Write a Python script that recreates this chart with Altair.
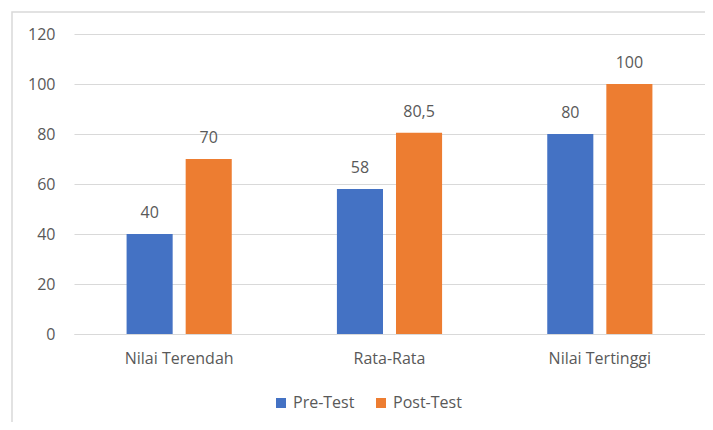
import altair as alt
import pandas as pd

categories = ["Nilai Terendah", "Rata-Rata", "Nilai Tertinggi"]
series = ["Pre-Test", "Post-Test"]
pre_values = [40, 58, 80]
post_values = [70, 80.5, 100]
pre_labels = ["40", "58", "80"]
post_labels = ["70", "80,5", "100"]
colors = ["#4472C4", "#ED7D31"]

rows = []
for c, v, l in zip(categories, pre_values, pre_labels):
    rows.append({"cat": c, "series": "Pre-Test", "value": v, "label": l})
for c, v, l in zip(categories, post_values, post_labels):
    rows.append({"cat": c, "series": "Post-Test", "value": v, "label": l})
df = pd.DataFrame(rows)

FONT = "Open Sans"
TXT = "#595959"
FS = 16

x = alt.X("cat:N", sort=categories, title=None,
          scale=alt.Scale(paddingInner=0.5, paddingOuter=0.25),
          axis=alt.Axis(labelAngle=0, labelFont=FONT, labelFontSize=FS, labelColor=TXT,
                        labelPadding=16, ticks=False, tickSize=0, domain=True,
                        domainColor="#D9D9D9", grid=False))
xo = alt.XOffset("series:N", sort=series,
                 scale=alt.Scale(paddingInner=0.22, paddingOuter=0))
y = alt.Y("value:Q", title=None,
          scale=alt.Scale(domain=[0, 120], nice=False),
          axis=alt.Axis(values=[0, 20, 40, 60, 80, 100, 120], labelFont=FONT, labelFontSize=FS,
                        labelColor=TXT, labelPadding=19, ticks=False, tickSize=0,
                        domain=False, grid=True, gridColor="#D9D9D9"))

color = alt.Color("series:N", sort=series,
                  scale=alt.Scale(domain=series, range=colors),
                  legend=alt.Legend(title=None, orient="none", direction="horizontal",
                                    legendX=199, legendY=361, symbolType="square",
                                    symbolSize=100, symbolStrokeWidth=0,
                                    labelFont=FONT, labelFontSize=FS, labelColor=TXT,
                                    columnPadding=18, labelOffset=4))

frame = alt.Chart(pd.DataFrame({"f": [0]})).mark_rect(
    fillOpacity=0, stroke="#D9D9D9", strokeWidth=1.5
).encode(x=alt.value(-62), x2=alt.value(700), y=alt.value(-22), y2=alt.value(600))

base = alt.Chart(df)
bars = base.mark_bar().encode(x=x, xOffset=xo, y=y, color=color)
text = base.mark_text(baseline="middle", dy=-21, font=FONT, fontSize=FS, color=TXT).encode(
    x=x, xOffset=xo, y=y, text="label:N")

chart = (frame + bars + text).properties(
    width=631, height=300,
    autosize=alt.AutoSizeParams(type="none"),
    padding={"left": 66, "top": 26, "right": 0, "bottom": 88},
    background="white",
).configure_view(stroke=None)

chart.save("out.html", embed_options={"renderer": "svg", "actions": False})
